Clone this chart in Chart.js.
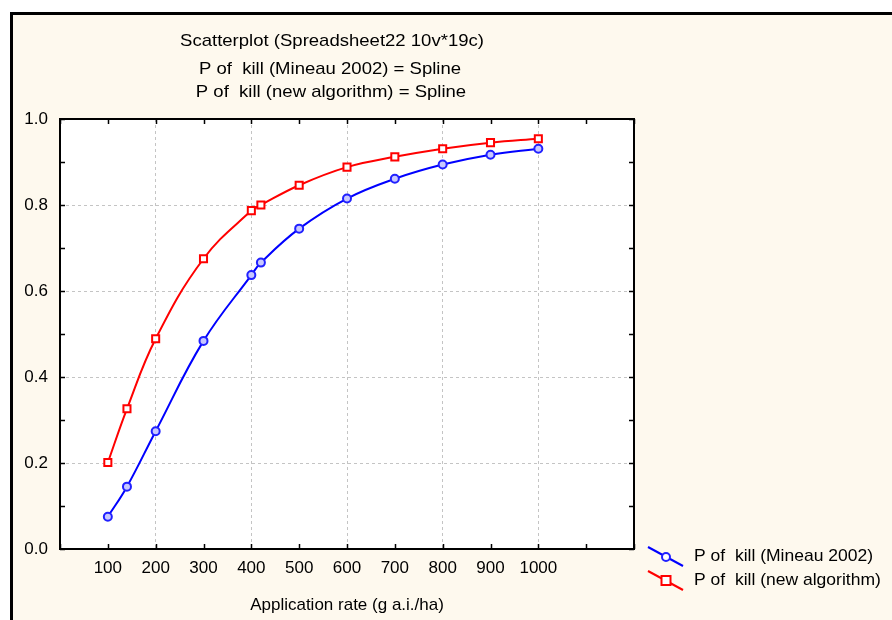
<!DOCTYPE html>
<html>
<head>
<meta charset="utf-8">
<title>P of kill vs application rate</title>
<script src="https://cdn.jsdelivr.net/npm/chart.js@4.4.1/dist/chart.umd.min.js"></script>
<style>
  html, body { margin: 0; padding: 0; background: #ffffff; }
  #wrap { width: 892px; height: 620px; }
</style>
</head>
<body>
<div id="wrap"><canvas id="chart" width="892" height="620"></canvas></div>
<script>
// application rate (g a.i./ha)
var appRate = [100, 140, 200, 300, 400, 420, 500, 600, 700, 800, 900, 1000];
// P of kill, Mineau 2002
var pKillMineau = [0.075, 0.145, 0.274, 0.484, 0.637, 0.666, 0.745, 0.815, 0.861, 0.894, 0.917, 0.931];
// P of kill, new algorithm
var pKillNew = [0.201, 0.326, 0.489, 0.675, 0.787, 0.800, 0.846, 0.888, 0.912, 0.931, 0.945, 0.954];

var titleLines = [
    'Scatterplot (Spreadsheet22 10v*19c)',
    'P of  kill (Mineau 2002) = Spline',
    'P of  kill (new algorithm) = Spline'
];
var seriesNames = ['P of  kill (Mineau 2002)', 'P of  kill (new algorithm)'];

var FONT = '"Liberation Sans", Arial, sans-serif';

var toPoints = function (xs, ys) {
    return xs.map(function (x, i) { return {x: x, y: ys[i]}; });
};

// text drawn a little wider than the plain font
var wideText = function (ctx, text, x, y, align, sx) {
    ctx.save();
    ctx.translate(x, y);
    ctx.scale(sx || 1.09, 1);
    ctx.textAlign = align;
    ctx.fillText(text, 0, 0);
    ctx.restore();
};

// frame, white plot area, inward ticks, titles and legend
var decor = {
    id: 'decor',
    beforeDraw: function (chart) {
        var ctx = chart.ctx, a = chart.chartArea;
        ctx.save();
        ctx.fillStyle = '#ffffff';
        ctx.fillRect(0, 0, chart.width, chart.height);
        ctx.fillStyle = '#fef9ee';
        ctx.fillRect(10, 12, chart.width - 10, chart.height - 12);
        ctx.fillStyle = '#000000';
        ctx.fillRect(10, 12, chart.width - 10, 3);
        ctx.fillRect(10, 12, 3, chart.height - 12);
        ctx.fillStyle = '#ffffff';
        ctx.fillRect(a.left, a.top, a.right - a.left, a.bottom - a.top);
        ctx.restore();
    },
    afterDraw: function (chart) {
        var ctx = chart.ctx, a = chart.chartArea;
        var xs = chart.scales.x, ys = chart.scales.y;
        ctx.save();

        // plot border
        ctx.strokeStyle = '#000000';
        ctx.lineWidth = 2;
        ctx.strokeRect(a.left, a.top, a.right - a.left, a.bottom - a.top);

        // tick marks pointing inside, on all four sides
        ctx.lineWidth = 1.5;
        ctx.beginPath();
        xs.ticks.forEach(function (t) {
            var px = Math.round(xs.getPixelForValue(t.value)) + 0.5;
            ctx.moveTo(px, a.top); ctx.lineTo(px, a.top + 5);
            ctx.moveTo(px, a.bottom); ctx.lineTo(px, a.bottom - 5);
        });
        ys.ticks.forEach(function (t) {
            var py = Math.round(ys.getPixelForValue(t.value)) + 0.5;
            ctx.moveTo(a.left, py); ctx.lineTo(a.left + 5, py);
            ctx.moveTo(a.right, py); ctx.lineTo(a.right - 5, py);
        });
        ctx.stroke();

        // title block
        ctx.fillStyle = '#000000';
        ctx.font = '17px ' + FONT;
        ctx.textBaseline = 'middle';
        wideText(ctx, titleLines[0], 332, 41, 'center');
        wideText(ctx, titleLines[1], 330, 69, 'center');
        wideText(ctx, titleLines[2], 331, 92, 'center');

        // legend
        var sets = chart.data.datasets;
        [556, 580].forEach(function (cy, i) {
            var ds = sets[i];
            ctx.strokeStyle = ds.borderColor;
            ctx.lineWidth = 2;
            ctx.beginPath();
            ctx.moveTo(648, cy - 9);
            ctx.lineTo(683, cy + 10);
            ctx.stroke();
            ctx.fillStyle = '#ffffff';
            ctx.strokeStyle = ds.pointBorderColor;
            ctx.beginPath();
            if (ds.pointStyle === 'rect') {
                ctx.rect(661.5, cy - 4, 9, 9);
            } else {
                ctx.arc(666, cy + 1, 4, 0, Math.PI * 2);
            }
            ctx.fill();
            ctx.stroke();
            ctx.fillStyle = '#000000';
            wideText(ctx, seriesNames[i], 694, cy, 'left', 1.03);
        });
        ctx.restore();
    }
};

var chart = new Chart(document.getElementById('chart'), {
    type: 'scatter',
    data: {
        datasets: [{
            label: seriesNames[0],
            data: toPoints(appRate, pKillMineau),
            showLine: true,
            tension: 0.4,
            borderColor: '#0000ff',
            borderWidth: 2,
            pointStyle: 'circle',
            pointRadius: 4,
            pointBorderWidth: 2,
            pointBorderColor: '#2020ff',
            pointBackgroundColor: '#c8c8ff'
        }, {
            label: seriesNames[1],
            data: toPoints(appRate, pKillNew),
            showLine: true,
            tension: 0.4,
            borderColor: '#ff0000',
            borderWidth: 2,
            pointStyle: 'rect',
            pointRadius: 5,
            pointBorderWidth: 2,
            pointBorderColor: '#ff0000',
            pointBackgroundColor: '#ffffff'
        }]
    },
    options: {
        responsive: false,
        animation: false,
        events: [],
        layout: { padding: { top: 119, right: 258, left: 0, bottom: 0 } },
        plugins: {
            legend: { display: false },
            title: { display: false },
            tooltip: { enabled: false }
        },
        scales: {
            x: {
                type: 'linear',
                min: 0,
                max: 1200,
                afterFit: function (scale) { scale.height = 71; },
                border: { display: false, dash: [3, 3] },
                grid: {
                    drawTicks: false,
                    lineWidth: 1,
                    color: function (c) {
                        var v = c.tick && c.tick.value;
                        return (v > 0 && v < 1200 && v % 200 === 0) ? '#c4c4c4' : 'rgba(0,0,0,0)';
                    }
                },
                ticks: {
                    stepSize: 100,
                    autoSkip: false,
                    maxRotation: 0,
                    padding: 9,
                    color: '#000000',
                    font: { family: FONT, size: 17 },
                    callback: function (v) {
                        return (v >= 100 && v <= 1000) ? String(v) : '';
                    }
                },
                title: {
                    display: true,
                    text: 'Application rate (g a.i./ha)',
                    color: '#000000',
                    font: { family: FONT, size: 17 },
                    padding: { top: 0, bottom: 4 }
                }
            },
            y: {
                type: 'linear',
                min: 0,
                max: 1,
                afterFit: function (scale) { scale.width = 60; },
                border: { display: false, dash: [3, 3] },
                grid: {
                    drawTicks: false,
                    lineWidth: 1,
                    color: function (c) {
                        var v = c.tick ? Math.round(c.tick.value * 10) : 0;
                        return (v > 0 && v < 10 && v % 2 === 0) ? '#c4c4c4' : 'rgba(0,0,0,0)';
                    }
                },
                ticks: {
                    stepSize: 0.1,
                    autoSkip: false,
                    padding: 12,
                    color: '#000000',
                    font: { family: FONT, size: 17 },
                    callback: function (v) {
                        var k = Math.round(v * 10);
                        return k % 2 === 0 ? (k / 10).toFixed(1) : '';
                    }
                }
            }
        }
    },
    plugins: [decor]
});
</script>
</body>
</html>
